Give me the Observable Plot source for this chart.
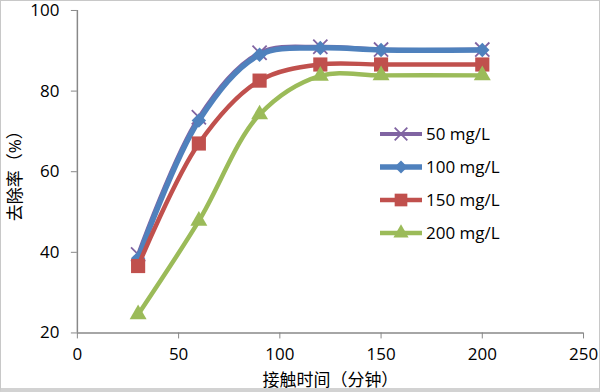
<!DOCTYPE html>
<html>
<head>
<meta charset="utf-8">
<script src="https://cdn.jsdelivr.net/npm/d3@7"></script>
<script src="https://cdn.jsdelivr.net/npm/@observablehq/plot@0.6"></script>
<style>
  html, body { margin: 0; padding: 0; background: #fff; }
  #wrap { position: relative; width: 600px; height: 392px; box-sizing: border-box; border: 1px solid #c8c8c8; border-bottom: 4px solid #d2d2d2; overflow: hidden; }
  #chart { position: absolute; left: -1px; top: -1px; }
  #legend { position: absolute; left: 378px; top: 116px; font-family: "Open Sans", "Noto Sans", sans-serif; font-size: 17px; color: #000; }
  .row { display: flex; align-items: center; height: 33px; }
  .row span { margin-left: 3px; }
</style>
</head>
<body>
<div id="wrap"><div id="chart"></div><div id="legend"></div></div>
<script>
const times = [30, 60, 90, 120, 150, 200];
const seriesNames = ["50 mg/L", "100 mg/L", "150 mg/L", "200 mg/L"];
const s50 = [39.5, 73.5, 89.5, 91.0, 90.3, 90.3];
const s100 = [38.5, 72.7, 89.0, 90.7, 90.2, 90.2];
const s150 = [36.6, 67.0, 82.6, 86.6, 86.6, 86.6];
const s200 = [24.6, 47.8, 74.2, 83.8, 83.9, 83.9];
const xTicks = [0, 50, 100, 150, 200, 250];
const yTicks = [20, 40, 60, 80, 100];
const colors = ["#8064A2", "#4F81BD", "#C0504D", "#9BBB59"];
const symbols = ["times", "diamond2", "square", "triangle"];
const widths = [4, 5.5, 4.5, 4.5];
const sizes = [6.5, 6.5, 8, 6.3];

const allVals = [s50, s100, s150, s200];
const data = [];
seriesNames.forEach((name, i) => times.forEach((t, j) => data.push({series: name, idx: i, t, v: allVals[i][j]})));

const font = '"Open Sans", "Noto Sans CJK SC", sans-serif';
const marks = [];
seriesNames.forEach((name, i) => {
  const d = data.filter(r => r.idx === i);
  marks.push(Plot.line(d, {x: "t", y: "v", stroke: colors[i], strokeWidth: widths[i], curve: "catmull-rom"}));
  if (symbols[i] === "times") {
    marks.push(Plot.dot(d, {x: "t", y: "v", symbol: "times", r: sizes[i], stroke: colors[i], strokeWidth: 1.8}));
  } else {
    marks.push(Plot.dot(d, {x: "t", y: "v", symbol: symbols[i], r: sizes[i], fill: colors[i], stroke: "none"}));
  }
});

const chart = Plot.plot({
  width: 600,
  height: 392,
  marginLeft: 77,
  marginRight: 16,
  marginTop: 10,
  marginBottom: 59,
  style: {fontFamily: font, fontSize: "17px", background: "transparent", color: "#000"},
  x: {domain: [0, 250]},
  y: {domain: [20, 100]},
  marks: [
    Plot.ruleX([0], {stroke: "#888", strokeWidth: 1.5}),
    Plot.ruleY([20], {stroke: "#888", strokeWidth: 1.5}),
    Plot.axisX({ticks: xTicks, tickSize: 6, tickPadding: 9, stroke: "#888", label: "接触时间（分钟）", labelAnchor: "center", labelArrow: "none", labelOffset: 53}),
    Plot.axisY({ticks: yTicks, tickSize: 6, tickPadding: 12, stroke: "#888", label: "去除率（%）", labelAnchor: "center", labelArrow: "none", labelOffset: 69}),
    ...marks
  ]
});
document.getElementById("chart").appendChild(chart);

// Legend
const legend = d3.select("#legend");
seriesNames.forEach((name, i) => {
  const row = legend.append("div").attr("class", "row");
  const svg = row.append("svg").attr("width", 44).attr("height", 20);
  svg.append("line").attr("x1", 1).attr("x2", 43).attr("y1", 10).attr("y2", 10).attr("stroke", colors[i]).attr("stroke-width", widths[i]);
  const sym = d3.symbol().type({times: d3.symbolTimes, diamond2: d3.symbolDiamond2, square: d3.symbolSquare, triangle: d3.symbolTriangle}[symbols[i]]).size(Math.PI * sizes[i] * sizes[i] * 0.8);
  const p = svg.append("path").attr("d", sym()).attr("transform", "translate(22,10)");
  if (symbols[i] === "times") p.attr("fill", "none").attr("stroke", colors[i]).attr("stroke-width", 1.8);
  else p.attr("fill", colors[i]);
  row.append("span").text(name);
});
</script>
</body>
</html>
